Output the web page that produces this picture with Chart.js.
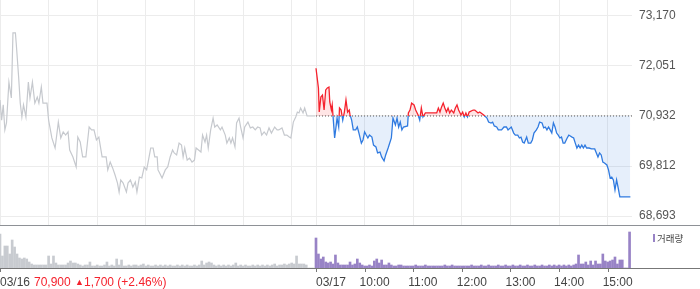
<!DOCTYPE html>
<html>
<head>
<meta charset="utf-8">
<script src="https://cdn.jsdelivr.net/npm/chart.js@4/dist/chart.umd.min.js"></script>
<style>
  body { margin: 0; background: #fff; }
  #wrap { position: relative; width: 700px; height: 289px; overflow: hidden; }
  #priceChart { position: absolute; left: 0; top: 0; }
  #volumeChart { position: absolute; left: 0; top: 225px; }
</style>
</head>
<body>
<div id="wrap">
  <canvas id="priceChart" width="700" height="225"></canvas>
  <canvas id="volumeChart" width="700" height="64"></canvas>
</div>
<script>
// previous close (dotted reference line) and the price ticks on the right
const PREV_CLOSE = 70932;
const priceTicks = [68693, 69812, 70932, 72051, 73170];

// minutes after 09:00 for each day (session 09:00 - 15:30 = 390 min)
const SESSION = 390;
const prevMinutes = [
  0, 2, 4, 6, 8, 11, 14, 16, 19, 20,
  23, 25, 27, 29, 32, 35, 37, 40, 43, 46,
  48, 51, 53, 58, 60, 64, 68, 72, 75, 78,
  81, 84, 86, 90, 94, 96, 99, 102, 106, 110,
  113, 116, 119, 122, 126, 131, 133, 136, 139, 142,
  145, 147, 149, 152, 156, 158, 161, 164, 167, 169,
  172, 175, 178, 181, 184, 186, 189, 191, 194, 195,
  197, 200, 204, 207, 210, 213, 215, 218, 221, 224,
  226, 228, 231, 234, 237, 240, 242, 245, 248, 250,
  253, 255, 257, 260, 263, 265, 268, 272, 274, 278,
  280, 283, 285, 287, 290, 292, 295, 297, 300, 302,
  306, 309, 312, 315, 318, 321, 323, 326, 329, 332,
  335, 339, 342, 344, 348, 351, 354, 357, 359, 362,
  365, 367, 369, 371, 374, 376, 379, 383, 389
];
const prevPrices = [
  71290, 70840, 71180, 70620, 70775, 71690, 71335, 72790, 72790, 72565,
  71805, 71220, 70910, 71180, 70910, 71690, 71335, 71690, 71220, 71355,
  71220, 71580, 71220, 71220, 70840, 70440, 70215, 70795, 70440, 70575,
  70505, 70575, 70170, 70015, 69790, 70460, 70350, 70015, 70015, 70685,
  70620, 70620, 70395, 70460, 70015, 70015, 69725, 69900, 69770, 69610,
  69430, 69230, 69500, 69430, 69230, 69430, 69500, 69340, 69455, 69230,
  69565, 69545, 69790, 69725, 70015, 70215, 70215, 70015, 70015, 69725,
  69655, 69545, 69725, 69790, 70015, 70170, 70105, 70060, 70325, 70280,
  70015, 70215, 69945, 69990, 69900, 69945, 70215, 70170, 70125, 70505,
  70350, 70505, 70215, 70620, 70885, 70685, 70730, 70620, 70685, 70505,
  70325, 70440, 70325, 70440, 70240, 70775, 70885, 70685, 70440, 70685,
  70795, 70665, 70685, 70620, 70685, 70665, 70505, 70575, 70505, 70665,
  70550, 70685, 70620, 70620, 70665, 70505, 70505, 70460, 70440, 70795,
  70910, 71020, 71000, 71110, 71000, 71110, 70932, 70932, 70932
];

const todayMinutes = [
  0, 3, 4, 6, 8, 10, 12, 14, 16, 17,
  19, 20, 23, 25, 26, 28, 29, 31, 33, 35,
  37, 39, 41, 42, 44, 46, 49, 51, 53, 56,
  58, 60, 62, 64, 66, 69, 71, 74, 76, 79,
  81, 84, 86, 89, 93, 95, 98, 100, 102, 104,
  106, 108, 113, 114, 116, 118, 121, 123, 126, 128,
  130, 132, 135, 139, 145, 149, 151, 153, 155, 157,
  159, 161, 163, 165, 167, 170, 172, 174, 176, 179,
  181, 183, 185, 187, 189, 194, 196, 200, 202, 207,
  211, 213, 216, 218, 220, 223, 225, 229, 232, 235,
  237, 241, 244, 246, 249, 251, 253, 255, 257, 260,
  262, 265, 267, 269, 272, 274, 276, 279, 281, 283,
  285, 287, 289, 291, 293, 295, 297, 299, 301, 303,
  305, 307, 310, 312, 316, 318, 320, 322, 324, 326,
  328, 330, 332, 334, 337, 340, 344, 346, 348, 350,
  352, 354, 356, 359, 361, 363, 365, 367, 369, 371,
  373, 375, 388
];
const todayPrices = [
  72000, 71560, 71020, 71355, 71400, 71065, 71515, 71560, 71580, 71245,
  71065, 71180, 70440, 70730, 70885, 70685, 71110, 71065, 70840, 71020,
  71290, 71020, 71065, 70955, 70840, 70620, 70620, 70685, 70550, 70325,
  70395, 70575, 70505, 70440, 70505, 70460, 70280, 70240, 70105, 70125,
  70015, 69925, 70060, 70215, 70440, 70885, 70730, 70885, 70685, 70795,
  70620, 70685, 70710, 71000, 71065, 71220, 71180, 71065, 70955, 70840,
  71110, 70910, 71000, 71000, 71000, 71000, 71110, 71020, 71135, 71220,
  71110, 71020, 71110, 71000, 71065, 71000, 71110, 71180, 71065, 70955,
  71020, 70910, 71000, 70910, 71020, 71065, 71065, 71000, 71020, 70955,
  70885, 70795, 70775, 70795, 70710, 70685, 70620, 70620, 70685, 70685,
  70620, 70685, 70550, 70505, 70505, 70440, 70460, 70350, 70325, 70460,
  70325, 70325, 70395, 70550, 70620, 70685, 70795, 70775, 70665, 70685,
  70620, 70685, 70620, 70550, 70775, 70685, 70550, 70505, 70440, 70460,
  70325, 70325, 70440, 70505, 70460, 70440, 70325, 70215, 70280, 70215,
  70280, 70215, 70280, 70215, 70215, 70195, 70195, 70105, 70015, 70105,
  70060, 69900, 69880, 69835, 69725, 69545, 69565, 69500, 69275, 69500,
  69320, 69120, 69120
];

// volume in 3-minute buckets (thousand shares)
const VOL_STEP = 3;
const prevVolume = [
  34, 12, 22, 22, 14, 28, 21, 14, 10, 9,
  10, 9, 6, 4, 3, 3, 3, 3, 3, 3,
  12, 4, 12, 5, 3, 3, 3, 3, 5, 7,
  5, 5, 4, 3, 2, 3, 3, 6, 2, 2,
  3, 2, 2, 3, 6, 2, 3, 2, 9, 3,
  8, 2, 2, 3, 2, 3, 3, 2, 3, 4,
  2, 3, 2, 2, 3, 2, 3, 2, 3, 2,
  3, 2, 2, 3, 2, 3, 2, 3, 2, 2,
  3, 2, 3, 7, 3, 5, 6, 5, 3, 2,
  3, 2, 3, 2, 3, 2, 3, 5, 2, 3,
  2, 3, 2, 2, 3, 2, 3, 2, 3, 2,
  3, 2, 3, 4, 2, 3, 3, 4, 3, 4,
  5, 4, 12, 4, 4, 4, 3, 0, 0, 0
];
const todayVolume = [
  30, 14, 9, 11, 6, 5, 6, 4, 13, 5,
  3, 3, 3, 3, 6, 3, 4, 9, 5, 3,
  2, 2, 3, 2, 7, 9, 5, 8, 3, 3,
  5, 3, 2, 2, 3, 3, 2, 2, 2, 2,
  2, 3, 2, 2, 2, 3, 2, 2, 2, 2,
  2, 2, 2, 3, 2, 2, 3, 2, 2, 2,
  2, 2, 2, 2, 3, 2, 2, 2, 3, 2,
  2, 3, 2, 2, 2, 3, 2, 2, 3, 2,
  2, 3, 2, 2, 3, 2, 2, 3, 2, 2,
  3, 2, 2, 3, 2, 2, 3, 2, 3, 2,
  3, 2, 3, 2, 3, 2, 3, 4, 13, 4,
  4, 6, 3, 7, 3, 7, 4, 4, 14, 7,
  6, 7, 8, 11, 4, 8, 8, 0, 0, 36
];

// bottom axis labels
const dateLabels = ["03/16", "03/17"];
const timeLabels = ["10:00", "11:00", "12:00", "13:00", "14:00", "15:00"];
const quotePrice = "70,900";
const quoteChange = "1,700 (+2.46%)";
const volumeLabel = "거래량";

const RED = "#f5222d";
const BLUE = "#2f7ae0";
const GRAY_LINE = "#c6c9ce";
const PURPLE = "#9883c6";
const GRID = "#ececec";
const FONT = '"Liberation Sans", Arial, sans-serif';

// 09:00 of each day plus every hour
const hourTicks = [];
for (let h = 0; h < 7; h++) hourTicks.push(h * 60);
for (let h = 0; h < 7; h++) hourTicks.push(SESSION + h * 60);

const prevData = prevMinutes.map((m, i) => ({ x: m, y: prevPrices[i] }));
const todayData = todayMinutes.map((m, i) => ({ x: SESSION + m, y: todayPrices[i] }));

function splitColor(ctx) {
  const chart = ctx.chart;
  const area = chart.chartArea;
  if (!area) return RED;
  const yBase = chart.scales.y.getPixelForValue(PREV_CLOSE);
  const t = Math.min(1, Math.max(0, (yBase - area.top) / (area.bottom - area.top)));
  const g = chart.ctx.createLinearGradient(0, area.top, 0, area.bottom);
  g.addColorStop(0, RED);
  g.addColorStop(t, RED);
  g.addColorStop(t, BLUE);
  g.addColorStop(1, BLUE);
  return g;
}

new Chart(document.getElementById("priceChart"), {
  type: "line",
  data: {
    datasets: [
      {
        data: todayData,
        borderColor: splitColor,
        borderWidth: 1.3,
        pointRadius: 0,
        tension: 0,
        fill: {
          target: { value: PREV_CLOSE },
          above: "rgba(255, 40, 40, 0.12)",
          below: "rgba(47, 122, 224, 0.12)",
        },
        order: 1,
      },
      {
        data: [{ x: SESSION, y: PREV_CLOSE }, { x: 2 * SESSION, y: PREV_CLOSE }],
        borderColor: "#555",
        borderWidth: 1,
        borderDash: [1, 2],
        pointRadius: 0,
        fill: false,
        order: 2,
      },
      {
        data: prevData,
        borderColor: GRAY_LINE,
        borderWidth: 1.2,
        pointRadius: 0,
        tension: 0,
        fill: false,
        order: 3,
      },
    ],
  },
  options: {
    responsive: false,
    animation: false,
    events: [],
    layout: { padding: 0, autoPadding: false },
    plugins: { legend: { display: false }, tooltip: { enabled: false } },
    scales: {
      x: {
        type: "linear",
        min: 0,
        max: 2 * SESSION,
        afterBuildTicks: (s) => { s.ticks = hourTicks.map((v) => ({ value: v })); },
        afterFit: (s) => { s.height = 0; s.paddingLeft = 0; s.paddingRight = 0; },
        ticks: { display: false },
        grid: { color: GRID, drawTicks: false },
        border: { display: false },
      },
      y: {
        position: "right",
        min: 68492,
        max: 73528,
        afterBuildTicks: (s) => { s.ticks = priceTicks.map((v) => ({ value: v })); },
        afterFit: (s) => { s.width = 68; s.paddingTop = 0; s.paddingBottom = 0; },
        ticks: {
          padding: 7,
          color: "#555",
          font: { family: FONT, size: 12 },
          callback: (v) => v.toLocaleString("en-US"),
        },
        grid: { color: GRID, drawTicks: false },
        border: { display: false },
      },
    },
  },
});

// volume panel: baseline, ticks, labels and legend
const volumeAxisPlugin = {
  id: "volumeAxis",
  afterDraw(chart) {
    const { ctx, chartArea } = chart;
    const x = chart.scales.x;
    const base = chartArea.bottom;
    ctx.save();
    ctx.lineWidth = 1;
    ctx.strokeStyle = "#8e9196";
    ctx.beginPath();
    ctx.moveTo(0, 0.5);
    ctx.lineTo(700, 0.5);
    ctx.stroke();

    ctx.strokeStyle = "#777";
    ctx.beginPath();
    ctx.moveTo(0, base + 0.5);
    ctx.lineTo(700, base + 0.5);
    const tickVals = [0, SESSION];
    for (let h = 1; h <= timeLabels.length; h++) tickVals.push(SESSION + h * 60);
    tickVals.forEach((v) => {
      const px = Math.round(x.getPixelForValue(v)) + 0.5;
      ctx.moveTo(px, base);
      ctx.lineTo(px, base + 4);
    });
    ctx.stroke();

    const ly = base + 15;
    ctx.textBaseline = "middle";
    ctx.textAlign = "left";
    ctx.font = "12px " + FONT;
    ctx.fillStyle = "#444";
    ctx.fillText(dateLabels[0], x.getPixelForValue(0), ly);
    ctx.fillText(dateLabels[1], x.getPixelForValue(SESSION), ly);
    timeLabels.forEach((t, i) => {
      ctx.fillText(t, x.getPixelForValue(SESSION + (i + 1) * 60) - 5, ly);
    });

    ctx.fillStyle = RED;
    ctx.fillText(quotePrice, 34, ly);
    ctx.font = "9px " + FONT;
    ctx.fillText("▲", 75, ly);
    ctx.font = "12px " + FONT;
    ctx.fillText(quoteChange, 84, ly);

    ctx.fillStyle = PURPLE;
    ctx.fillRect(653, 9, 2, 8);
    ctx.fillStyle = "#444";
    ctx.font = '9.5px "Noto Sans CJK KR", sans-serif';
    ctx.fillText(volumeLabel, 657, 13);
    ctx.restore();
  },
};

new Chart(document.getElementById("volumeChart"), {
  type: "bar",
  data: {
    datasets: [
      {
        data: prevVolume.map((v, i) => ({ x: i * VOL_STEP, y: v })),
        backgroundColor: "#c8cbd0",
        barThickness: 2,
        grouped: false,
      },
      {
        data: todayVolume.map((v, i) => ({ x: SESSION + i * VOL_STEP, y: v })),
        backgroundColor: PURPLE,
        barThickness: 2,
        grouped: false,
      },
    ],
  },
  options: {
    responsive: false,
    animation: false,
    events: [],
    layout: { padding: { top: 3, bottom: 21, left: 0, right: 68 }, autoPadding: false },
    plugins: { legend: { display: false }, tooltip: { enabled: false } },
    scales: {
      x: { type: "linear", min: 0, max: 2 * SESSION, offset: false, display: false },
      y: { min: 0, max: 40, display: false },
    },
  },
  plugins: [volumeAxisPlugin],
});
</script>
</body>
</html>
